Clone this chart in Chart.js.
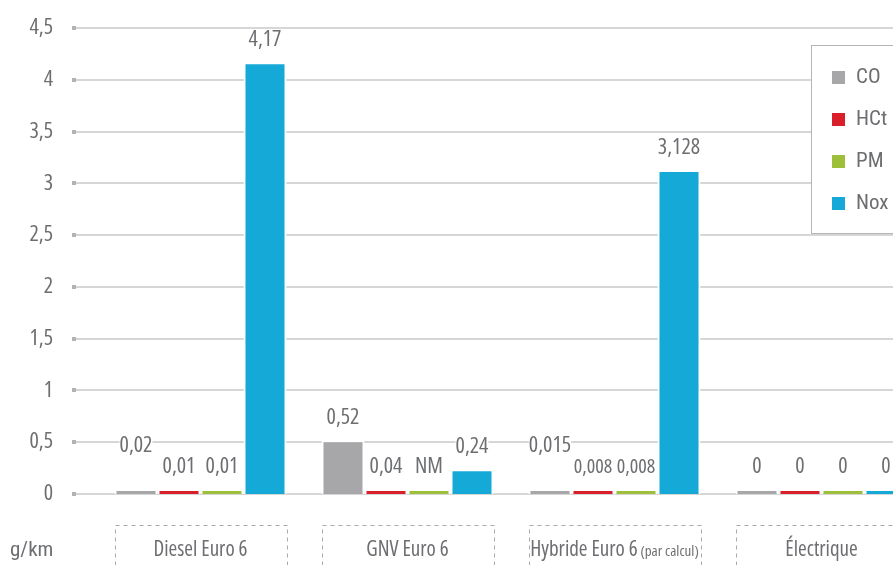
<!DOCTYPE html>
<html>
<head>
<meta charset="utf-8">
<script src="https://cdn.jsdelivr.net/npm/chart.js@4/dist/chart.umd.min.js"></script>
<style>
  body { margin: 0; background: #fff; overflow: hidden; }
  #wrap { width: 893px; height: 565px; overflow: hidden; }
</style>
</head>
<body>
<div id="wrap"><canvas id="chart" width="925" height="565"></canvas></div>
<script>
// données (g/km)
const categories = ['Diesel Euro 6', 'GNV Euro 6', 'Hybride Euro 6 (par calcul)', 'Électrique'];
const seriesNames = ['CO', 'HCt', 'PM', 'Nox'];
const co  = [0.02, 0.52, 0.015, 0];
const hct = [0.01, 0.04, 0.008, 0];
const pm  = [0.01, 0, 0.008, 0];
const nox = [4.17, 0.24, 3.128, 0];
const pmNotes = [null, 'NM', null, null]; // NM = non mesuré
const yMax = 4.5, yStep = 0.5;
const unit = 'g/km';

const colors = ['#a7a7a9', '#d81f2a', '#9dbf3a', '#14a9d6'];
const grey = '#6d6e71';
const num = s => 'condensed ' + s + 'px "Open Sans"';
const TXT = 'condensed 21px "Open Sans"';
const SMALL = 'condensed 15px "Open Sans"';
const LEG = 'condensed 21px Roboto';

const fr = v => String(v).replace('.', ',');

const decor = {
    id: 'decor',
    beforeDatasetsDraw(chart) {
        const { ctx, width } = chart; const y = chart.scales.y;
        ctx.save();
        y.ticks.forEach(t => {
            const py = Math.round(y.getPixelForValue(t.value));
            ctx.strokeStyle = '#d6d6d6'; ctx.lineWidth = 2;
            ctx.beginPath(); ctx.moveTo(y.right - 21, py); ctx.lineTo(width, py); ctx.stroke();
            ctx.fillStyle = '#b3b3b3'; ctx.fillRect(y.right - 25, py - 2, 4, 4);
        });
        ctx.restore();
    },
    afterDatasetsDraw(chart) {
        const { ctx } = chart; const zero = chart.scales.y.getPixelForValue(0);
        ctx.save();
        ctx.textAlign = 'center'; ctx.textBaseline = 'middle';
        const items = [];
        ctx.font = num(22);
        chart.data.datasets.forEach((ds, i) => {
            chart.getDatasetMeta(i).data.forEach((bar, j) => {
                const v = ds.data[j];
                const txt = (ds.notes && ds.notes[j]) || fr(v);
                let ty = Math.min(bar.y, zero - 3) - 22;
                if (i === 0 && v > 0 && v < 0.1) ty -= 21; // on remonte pour ne pas chevaucher
                items.push({ txt, x: bar.x, y: ty, size: 22, w: ctx.measureText(txt).width });
            });
        });
        // libellés voisins trop serrés -> plus petits
        items.forEach(a => items.forEach(b => {
            if (a === b || Math.abs(a.y - b.y) > 5) return;
            if (Math.abs(a.x - b.x) < (a.w + b.w) / 2 + 4) {
                [a, b].forEach(it => { it.size = 20; ctx.font = num(20); it.w = ctx.measureText(it.txt).width; });
            }
        }));
        // fonds blancs d'abord, puis les textes
        ctx.fillStyle = '#fff';
        items.forEach(it => ctx.fillRect(it.x - it.w / 2, it.y - 11, it.w, 22));
        ctx.fillStyle = grey;
        items.forEach(it => { ctx.font = num(it.size); ctx.fillText(it.txt, it.x, it.y); });
        ctx.restore();
    },
    afterDraw(chart) {
        const { ctx } = chart; const x = chart.scales.x;
        ctx.save();
        // cadres pointillés des catégories
        categories.forEach((c, i) => {
            const cx = x.getPixelForValue(i);
            ctx.setLineDash([4, 4]); ctx.strokeStyle = '#a9a9a9'; ctx.lineWidth = 1;
            ctx.strokeRect(Math.round(cx - 86) + 0.5, 525.5, 172, 60);
            ctx.setLineDash([]);
            const m = c.match(/^(.*?)\s*(\(.*\))?$/);
            ctx.font = TXT; const w1 = ctx.measureText(m[1]).width;
            let w2 = 0;
            if (m[2]) { ctx.font = SMALL; w2 = ctx.measureText(' ' + m[2]).width; }
            let sx = cx - (w1 + w2) / 2;
            ctx.fillStyle = grey; ctx.textAlign = 'left'; ctx.textBaseline = 'alphabetic';
            ctx.font = TXT; ctx.fillText(m[1], sx, 556);
            if (m[2]) { ctx.font = SMALL; ctx.fillText(' ' + m[2], sx + w1, 556); }
        });
        ctx.font = LEG; ctx.fillStyle = grey; ctx.textAlign = 'left';
        ctx.fillText(unit, 10, 556);

        // légende
        const lx = 811.5, ly = 45.5;
        ctx.fillStyle = '#fff'; ctx.fillRect(lx, ly, 140, 188);
        ctx.strokeStyle = '#b5b5b5'; ctx.lineWidth = 1; ctx.strokeRect(lx, ly, 140, 188);
        ctx.textBaseline = 'middle'; ctx.font = LEG;
        chart.data.datasets.forEach((ds, i) => {
            const cy = 78 + i * 42;
            ctx.fillStyle = ds.backgroundColor; ctx.fillRect(832, cy - 7, 13, 13);
            ctx.fillStyle = grey; ctx.fillText(ds.label, 856, cy);
        });
        ctx.restore();
    }
};

const series = [co, hct, pm, nox];
new Chart(document.getElementById('chart'), {
    type: 'bar',
    data: {
        labels: categories,
        datasets: series.map((d, i) => ({
            label: seriesNames[i],
            data: d,
            notes: i === 2 ? pmNotes : null,
            backgroundColor: colors[i],
            borderColor: '#fff',
            borderWidth: { top: 2, left: 2, right: 2, bottom: 0 },
            minBarLength: 5,
            categoryPercentage: 0.831,
            barPercentage: 1
        }))
    },
    options: {
        responsive: false,
        animation: false,
        layout: { padding: { top: 28, bottom: 71, left: 0, right: 0 } },
        plugins: { legend: { display: false }, tooltip: { enabled: false } },
        scales: {
            x: { display: false, grid: { display: false } },
            y: {
                min: 0, max: yMax,
                border: { display: false },
                // les traits de graduation sont dessinés par le plugin ; tickLength sert à décaler les libellés
                grid: { display: false, drawTicks: true, tickLength: 44 },
                afterFit: s => { s.width = 97; },
                ticks: {
                    stepSize: yStep, padding: 0, color: grey,
                    font: { family: '"Open Sans"', size: 22, weight: 'condensed' },
                    callback: v => fr(v)
                }
            }
        }
    },
    plugins: [decor]
});
</script>
</body>
</html>
